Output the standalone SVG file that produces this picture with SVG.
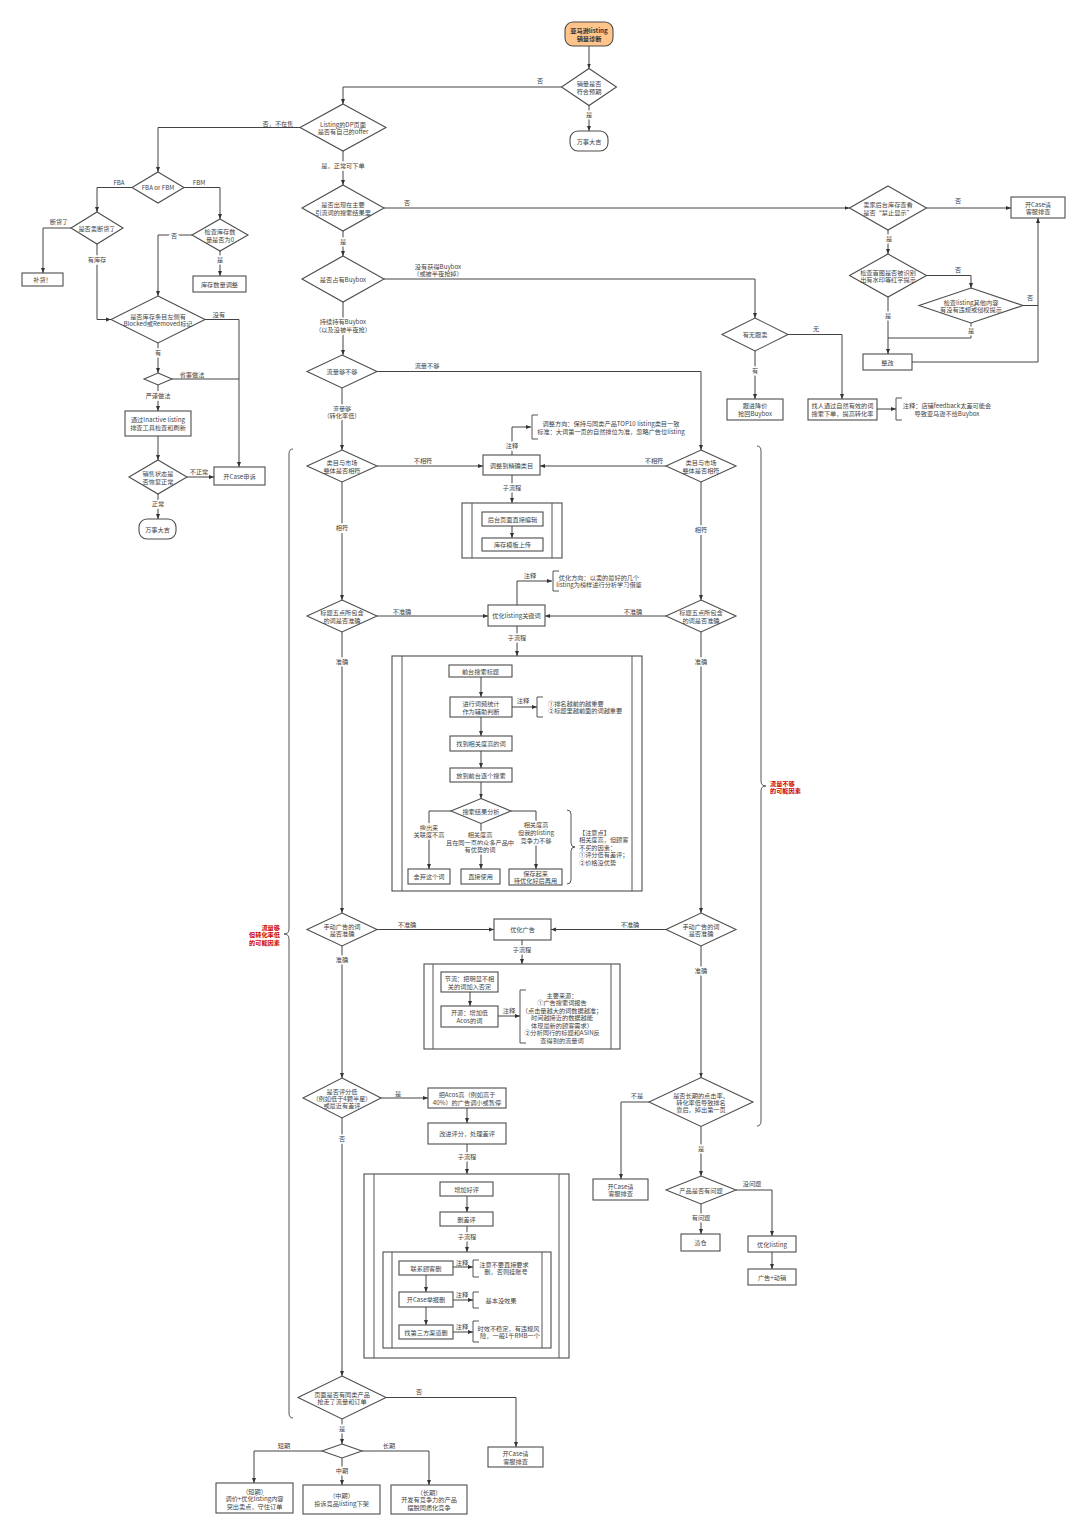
<svg xmlns="http://www.w3.org/2000/svg" width="1080" height="1529" viewBox="0 0 1080 1529">
<defs>
<marker id="ah" viewBox="0 0 10 10" refX="10" refY="5" markerWidth="5" markerHeight="5" markerUnits="userSpaceOnUse" orient="auto"><path d="M0,1 L10,5 L0,9 z" fill="#333"/></marker>
<style>
.n{fill:#fff;stroke:#4d4d4d;stroke-width:1.1}
.sp{fill:none;stroke:#4d4d4d;stroke-width:1.1}
.c{fill:none;stroke:#444;stroke-width:1}
.a{marker-end:url(#ah)}
.br{fill:none;stroke:#555;stroke-width:1}
text{font-family:"Noto Sans CJK SC","Noto Sans",sans-serif;font-size:6.2px;fill:#444;text-anchor:middle;dominant-baseline:central}
.lb{stroke:#fff;stroke-width:3;paint-order:stroke}
.st{text-anchor:start}
.r{fill:#cc0000;font-weight:bold;text-anchor:end}
.rs{fill:#cc0000;font-weight:bold;text-anchor:start}
.b{font-weight:bold;fill:#333}
</style>
</defs>
<rect width="1080" height="1529" fill="#fff"/>

<g id="start"><rect x="565" y="22" width="48" height="24" rx="8" fill="#ffc48a" stroke="#4d4d4d" stroke-width="1.1"/><text class="b" x="589" y="30.5">亚马逊listing</text><text class="b" x="589" y="38.5">销量诊断</text></g>
<g id="d-sales"><polygon class="n" points="589,68.5 616.5,87 589,105.5 561.5,87"/><text x="589" y="83.5">销量是否</text><text x="589" y="91">符合预期</text></g>
<g id="ok1"><rect class="n" x="570" y="131" width="38" height="20" rx="8"/><text x="589" y="141">万事大吉</text></g>
<g id="d-dp"><polygon class="n" points="343,104 386,127.5 343,151 300,127.5"/><text x="343" y="124">Listing的DP页面</text><text x="343" y="131.5">是否有自己的offer</text></g>
<g id="d-fba"><polygon class="n" points="158,172 184,187.5 158,203 132,187.5"/><text x="158" y="187.5">FBA or FBM</text></g>
<g id="d-stock"><polygon class="n" points="97,212 123,228 97,244 71,228"/><text x="97" y="228">是否卖断货了</text></g>
<g id="restock"><rect class="n" x="22" y="273" width="41" height="13"/><text x="42.5" y="279.5">补货！</text></g>
<g id="d-qty"><polygon class="n" points="220,219 248,235 220,251 192,235"/><text x="220" y="231.5">检查库存数</text><text x="220" y="239">量是否为0</text></g>
<g id="qty-adjust"><rect class="n" x="193" y="276" width="53" height="16"/><text x="219.5" y="284">库存数量调整</text></g>
<g id="d-blocked"><polygon class="n" points="158,296 205,319.5 158,343 111,319.5"/><text x="158" y="316">是否库存条目左侧有</text><text x="158" y="323.5">Blocked或Removed标记</text></g>
<g id="d-way"><polygon class="n" points="158,373 172,379 158,385 144,379"/></g>
<g id="inactive"><rect class="n" x="125" y="411" width="66" height="25"/><text x="158" y="419.5">通过Inactive listing</text><text x="158" y="427">排查工具检查和刷新</text></g>
<g id="d-status"><polygon class="n" points="158,460 187,477 158,494 129,477"/><text x="158" y="473.5">销售状态是</text><text x="158" y="481">否恢复正常</text></g>
<g id="appeal"><rect class="n" x="214" y="467" width="51" height="18"/><text x="239.5" y="476">开Case申诉</text></g>
<g id="ok2"><rect class="n" x="139" y="519" width="37" height="20" rx="8"/><text x="157.5" y="529">万事大吉</text></g>

<g id="d-search"><polygon class="n" points="343,185 384,208 343,231 302,208"/><text x="343" y="204.5">是否出现在主要</text><text x="343" y="212">引流词的搜索结果里</text></g>
<g id="d-buybox"><polygon class="n" points="343,256 384,279 343,302 302,279"/><text x="343" y="279">是否占有Buybox</text></g>
<g id="d-traffic"><polygon class="n" points="342,355 377,371.5 342,388 307,371.5"/><text x="342" y="371.5">流量够不够</text></g>

<g id="d-hidden"><polygon class="n" points="888,186 926.5,208 888,230 849.5,208"/><text x="888" y="204.5">卖家后台库存查看</text><text x="888" y="212">是否“禁止显示”</text></g>
<g id="case1"><rect class="n" x="1011" y="197" width="54" height="21"/><text x="1038" y="204">开Case请</text><text x="1038" y="211.5">客服排查</text></g>
<g id="d-img"><polygon class="n" points="888,254 926.5,275.5 888,297 849.5,275.5"/><text x="888" y="272">检查首图是否被识别</text><text x="888" y="279.5">出有水印等红字提示</text></g>
<g id="d-other"><polygon class="n" points="971,288 1023,305.5 971,323 919,305.5"/><text x="971" y="302">检查listing其他内容</text><text x="971" y="309.5">有没有违规或侵权提示</text></g>
<g id="fix"><rect class="n" x="863" y="354" width="49" height="16"/><text x="887.5" y="362">整改</text></g>
<g id="d-follow"><polygon class="n" points="755,318 788,334.5 755,351 722,334.5"/><text x="755" y="334.5">有无跟卖</text></g>
<g id="price"><rect class="n" x="727" y="399" width="56" height="21"/><text x="755" y="405.5">跟进降价</text><text x="755" y="413">抢回Buybox</text></g>
<g id="find"><rect class="n" x="808" y="399" width="69" height="21"/><text x="842.5" y="405.5">找人通过自然有效的词</text><text x="842.5" y="413">搜索下单，提高转化率</text></g>
<g id="note-feedback"><path class="br" d="M902,398H896V420H902"/><text x="947" y="405.5">注释：店铺feedback太差可能会</text><text x="947" y="413">导致亚马逊不给Buybox</text></g>

<g id="brace-left"><path class="br" d="M293,449Q289,449 289,454V929Q289,934 284,934Q289,934 289,939V1413Q289,1418 293,1418"/><text class="r" x="280" y="927">流量够</text><text class="r" x="280" y="934.5">但转化率低</text><text class="r" x="280" y="942">的可能因素</text></g>
<g id="brace-right"><path class="br" d="M757,446Q761,446 761,451V781Q761,786 766,786Q761,786 761,791V1121Q761,1126 757,1126"/><text class="rs" x="770" y="783">流量不够</text><text class="rs" x="770" y="790.5">的可能因素</text></g>

<g id="d-cat-l"><polygon class="n" points="342,450 377,466 342,482 307,466"/><text x="342" y="462.5">类目与市场</text><text x="342" y="470">整体是否相符</text></g>
<g id="d-cat-r"><polygon class="n" points="701,450 736,466 701,482 666,466"/><text x="701" y="462.5">类目与市场</text><text x="701" y="470">整体是否相符</text></g>
<g id="cat"><rect class="n" x="483" y="455" width="57" height="20"/><text x="511.5" y="465">调整到精确类目</text></g>
<g id="note-cat"><path class="br" d="M538,415H532V439H538"/><text x="611" y="423.5">调整方向：保持与同类产品TOP10 listing类目一致</text><text x="611" y="431">标准：大词第一页的自然排位为准，忽略广告位listing</text></g>
<g id="sub-cat"><rect class="sp" x="462" y="503" width="100" height="55"/><path class="br" d="M472,503V558M552,503V558"/><rect class="n" x="482" y="512" width="61" height="14"/><text x="512.5" y="519">后台页面直接编辑</text><rect class="n" x="482" y="538" width="61" height="13"/><text x="512.5" y="544.5">库存模板上传</text></g>

<g id="d-title-l"><polygon class="n" points="342,600 377,616 342,632 307,616"/><text x="342" y="612.5">标题五点所包含</text><text x="342" y="620">的词是否准确</text></g>
<g id="d-title-r"><polygon class="n" points="701,600 736,616 701,632 666,616"/><text x="701" y="612.5">标题五点所包含</text><text x="701" y="620">的词是否准确</text></g>
<g id="kw"><rect class="n" x="488" y="605" width="57" height="21"/><text x="516.5" y="615.5">优化listing关键词</text></g>
<g id="note-kw"><path class="br" d="M559,571H553V591H559"/><text x="599" y="577">优化方向：以卖的最好的几个</text><text x="599" y="584.5">listing为榜样进行分析学习借鉴</text></g>

<g id="sub-kw"><rect class="sp" x="392" y="656" width="250" height="235"/><path class="br" d="M402,656V891M632,656V891"/>
<rect class="n" x="449" y="665" width="63" height="12"/><text x="480.5" y="671">前台搜索标题</text>
<rect class="n" x="450" y="697" width="62" height="20"/><text x="481" y="703.5">进行词频统计</text><text x="481" y="711">作为辅助判断</text>
<path class="br" d="M543,697H537V717H543"/><text class="st" x="548" y="703">①排名越前的越重要</text><text class="st" x="548" y="710.5">②标题里越前面的词越重要</text>
<rect class="n" x="450" y="736" width="62" height="15"/><text x="481" y="743.5">找到相关度高的词</text>
<rect class="n" x="450" y="768" width="62" height="14"/><text x="481" y="775">放到前台逐个搜索</text>
<polygon class="n" points="481,798.5 511,811 481,823.5 451,811"/><text x="481" y="811">搜索结果分析</text>
<rect class="n" x="408" y="869" width="42" height="15"/><text x="429" y="876.5">舍弃这个词</text>
<rect class="n" x="461" y="869" width="39" height="15"/><text x="480.5" y="876.5">直接使用</text>
<rect class="n" x="509" y="869" width="53" height="16"/><text x="535.5" y="873.5">保存起来</text><text x="535.5" y="880.5">待优化好后再用</text>
<path class="br" d="M567,810Q571,810 571,814V843Q571,847 575,847Q571,847 571,851V880Q571,884 567,884"/>
<text class="st" x="579" y="832">【注意点】</text><text class="st" x="579" y="839.5">相关度高，但顾客</text><text class="st" x="579" y="847">不买的因素：</text><text class="st" x="579" y="854.5">①评分低有差评；</text><text class="st" x="579" y="862">②价格没优势</text>
</g>

<g id="d-ad-l"><polygon class="n" points="342,913 377,929.5 342,946 307,929.5"/><text x="342" y="926">手动广告的词</text><text x="342" y="933.5">是否准确</text></g>
<g id="d-ad-r"><polygon class="n" points="701,913 736,929.5 701,946 666,929.5"/><text x="701" y="926">手动广告的词</text><text x="701" y="933.5">是否准确</text></g>
<g id="ad"><rect class="n" x="494" y="919" width="57" height="21"/><text x="522.5" y="929.5">优化广告</text></g>
<g id="sub-ad"><rect class="sp" x="424" y="964" width="196" height="85"/><path class="br" d="M433,964V1049M611,964V1049"/>
<rect class="n" x="441" y="972" width="57" height="20"/><text x="469.5" y="978.5">节流：把明显不相</text><text x="469.5" y="986">关的词加入否定</text>
<rect class="n" x="441" y="1006" width="57" height="21"/><text x="469.5" y="1012.5">开源：增加低</text><text x="469.5" y="1020">Acos的词</text>
<path class="br" d="M526,990H520V1043H526"/>
<text x="562" y="995">主要来源：</text><text x="562" y="1002.5">①广告搜索词报告</text><text x="562" y="1010">（点击量越大的词数据越准；</text><text x="562" y="1017.5">时间越接近的数据越能</text><text x="562" y="1025">体现最新的顾客需求）</text><text x="562" y="1032.5">②分析同行的标题和ASIN反</text><text x="562" y="1040">查得到的流量词</text>
</g>

<g id="d-rating"><polygon class="n" points="342,1078 381,1098 342,1118 303,1098"/><text x="342" y="1091">是否评分低</text><text x="342" y="1098">（例如低于4颗半星）</text><text x="342" y="1105">或最近有差评</text></g>
<g id="acos"><rect class="n" x="428" y="1088" width="78" height="20"/><text x="467" y="1094.5">把Acos高（例如高于</text><text x="467" y="1102">40%）的广告调小或暂停</text></g>
<g id="improve"><rect class="n" x="428" y="1123" width="78" height="21"/><text x="467" y="1133.5">改进评分，处理差评</text></g>
<g id="sub-review"><rect class="sp" x="364" y="1174" width="205" height="184"/><path class="br" d="M374,1174V1358M559,1174V1358"/>
<rect class="n" x="440" y="1182" width="53" height="14"/><text x="466.5" y="1189">增加好评</text>
<rect class="n" x="440" y="1212" width="53" height="14"/><text x="466.5" y="1219">删差评</text>
<rect class="sp" x="383" y="1252" width="168" height="96"/><path class="br" d="M392,1252V1348M542,1252V1348"/>
<rect class="n" x="399" y="1261" width="54" height="14"/><text x="426" y="1268">联系顾客删</text>
<rect class="n" x="399" y="1292" width="54" height="15"/><text x="426" y="1299.5">开Case举报删</text>
<rect class="n" x="399" y="1325" width="54" height="14"/><text x="426" y="1332">找第三方渠道删</text>
<path class="br" d="M479,1260H473V1277H479"/><text x="504" y="1264">注意不要直接要求</text><text x="506" y="1271.5">删，否则挂账号</text>
<path class="br" d="M479,1292H473V1308H479"/><text x="501" y="1300">基本没效果</text>
<path class="br" d="M479,1321H473V1342H479"/><text x="508.5" y="1328">时效不稳定，有违规风</text><text x="510" y="1335.5">险，一般1千RMB一个</text>
</g>

<g id="d-rank"><polygon class="n" points="701,1077.5 753,1102 701,1126.5 649,1102"/><text x="701" y="1095">是否长期的点击率、</text><text x="701" y="1102">转化率低导致排名</text><text x="701" y="1109">靠后，掉出第一页</text></g>
<g id="case2"><rect class="n" x="593" y="1179" width="55" height="21"/><text x="620.5" y="1186">开Case请</text><text x="620.5" y="1193.5">客服排查</text></g>
<g id="d-product"><polygon class="n" points="701,1176 736,1190 701,1204 666,1190"/><text x="701" y="1190">产品是否有问题</text></g>
<g id="clear"><rect class="n" x="681" y="1234" width="39" height="17"/><text x="700.5" y="1242.5">清仓</text></g>
<g id="opt-listing"><rect class="n" x="748" y="1236" width="48" height="16"/><text x="772" y="1244">优化listing</text></g>
<g id="ad-promo"><rect class="n" x="748" y="1269" width="48" height="16"/><text x="772" y="1277">广告+动销</text></g>

<g id="d-compete"><polygon class="n" points="342,1376 386,1397.5 342,1419 298,1397.5"/><text x="342" y="1394">页面是否有同类产品</text><text x="342" y="1401.5">抢走了流量和订单</text></g>
<g id="case3"><rect class="n" x="488" y="1447" width="55" height="20"/><text x="515.5" y="1453.5">开Case请</text><text x="515.5" y="1461">客服排查</text></g>
<g id="d-term"><polygon class="n" points="342,1444 362,1451 342,1458 322,1451"/></g>
<g id="short"><rect class="n" x="216" y="1483" width="77" height="30"/><text x="254.5" y="1491">（短期）</text><text x="254.5" y="1498.5">调价+优化listing内容</text><text x="254.5" y="1506">突出卖点，守住订单</text></g>
<g id="mid"><rect class="n" x="303" y="1485" width="77" height="29"/><text x="341.5" y="1495.5">（中期）</text><text x="341.5" y="1503">投诉竞品listing下架</text></g>
<g id="long"><rect class="n" x="391" y="1485" width="76" height="29"/><text x="429" y="1492">（长期）</text><text x="429" y="1499.5">开发有竞争力的产品</text><text x="429" y="1507">摆脱同质化竞争</text></g>

<g id="connectors">
<path class="c a" d="M589,46V68.5"/>
<path class="c a" d="M561.5,87H343V104"/>
<path class="c a" d="M589,105.5V131"/>
<path class="c a" d="M300,127.5H158V172"/>
<path class="c a" d="M132,187.5H97V212"/>
<path class="c a" d="M184,187.5H220V219"/>
<path class="c a" d="M71,228H43V273"/>
<path class="c a" d="M97,244V319.5H111"/>
<path class="c a" d="M192,235H158V296"/>
<path class="c a" d="M220,251V276"/>
<path class="c a" d="M205,319.5H239V467"/>
<path class="c a" d="M158,343V373"/>
<path class="c" d="M172,379H239"/>
<path class="c a" d="M158,385V411"/>
<path class="c a" d="M158,436V460"/>
<path class="c a" d="M187,477H214"/>
<path class="c a" d="M158,494V519"/>
<path class="c a" d="M343,151V185"/>
<path class="c a" d="M384,208H849.5"/>
<path class="c a" d="M343,231V256"/>
<path class="c a" d="M384,279H755V318"/>
<path class="c a" d="M343,302V355"/>
<path class="c a" d="M377,371.5H701V450"/>
<path class="c a" d="M342,388V450"/>
<path class="c a" d="M926.5,208H1011"/>
<path class="c a" d="M888,230V254"/>
<path class="c a" d="M926.5,275.5H971V288"/>
<path class="c" d="M1023,305.5H1038"/>
<path class="c a" d="M912,362H1038V218"/>
<path class="c" d="M971,323V338H888"/>
<path class="c a" d="M888,297V354"/>
<path class="c a" d="M788,334.5H842V399"/>
<path class="c a" d="M755,351V399"/>
<path class="c a" d="M877,409H896"/>
<path class="c a" d="M377,466H483"/>
<path class="c a" d="M666,466H540"/>
<path class="c a" d="M512,455V427H531"/>
<path class="c a" d="M512,475V503"/>
<path class="c a" d="M512,526V538"/>
<path class="c a" d="M342,482V600"/>
<path class="c a" d="M701,482V600"/>
<path class="c a" d="M377,616H488"/>
<path class="c a" d="M666,616H545"/>
<path class="c a" d="M517,605V581H552"/>
<path class="c a" d="M517,626V656"/>
<path class="c a" d="M481,677V697"/>
<path class="c a" d="M481,717V736"/>
<path class="c a" d="M481,751V768"/>
<path class="c a" d="M481,782V798.5"/>
<path class="c a" d="M512,707H537"/>
<path class="c a" d="M451,811H429V869"/>
<path class="c a" d="M511,811H536V869"/>
<path class="c a" d="M481,823.5V869"/>
<path class="c a" d="M342,632V913"/>
<path class="c a" d="M701,632V913"/>
<path class="c a" d="M377,929.5H494"/>
<path class="c a" d="M666,929.5H551"/>
<path class="c a" d="M522,940V964"/>
<path class="c a" d="M470,992V1006"/>
<path class="c a" d="M498,1016H520"/>
<path class="c a" d="M342,946V1078"/>
<path class="c a" d="M701,946V1077.5"/>
<path class="c a" d="M381,1098H428"/>
<path class="c a" d="M467,1108V1123"/>
<path class="c a" d="M467,1144V1174"/>
<path class="c a" d="M467,1196V1212"/>
<path class="c a" d="M467,1226V1252"/>
<path class="c a" d="M426,1275V1292"/>
<path class="c a" d="M426,1307V1325"/>
<path class="c a" d="M453,1267H473"/>
<path class="c a" d="M453,1300H473"/>
<path class="c a" d="M453,1332H473"/>
<path class="c a" d="M342,1118V1376"/>
<path class="c a" d="M649,1102H621V1179"/>
<path class="c a" d="M701,1126.5V1176"/>
<path class="c a" d="M736,1190H772V1236"/>
<path class="c a" d="M701,1204V1234"/>
<path class="c a" d="M772,1252V1269"/>
<path class="c a" d="M386,1397.5H516V1447"/>
<path class="c a" d="M342,1419V1444"/>
<path class="c a" d="M322,1451H254V1483"/>
<path class="c a" d="M342,1458V1485"/>
<path class="c a" d="M362,1451H429V1485"/>

<text x="540" y="80">否</text>
<text class="lb" x="589" y="114">是</text>
<text x="278" y="123">否，不在售</text>
<text x="119" y="182">FBA</text>
<text x="199" y="182">FBM</text>
<text x="59" y="221">断货了</text>
<text class="lb" x="97" y="259">有库存</text>
<text class="lb" x="174" y="235">否</text>
<text class="lb" x="220" y="259">是</text>
<text x="219" y="314">没有</text>
<text class="lb" x="158" y="352">有</text>
<text x="192" y="374">省事做法</text>
<text class="lb" x="158" y="395">严谨做法</text>
<text x="199" y="471">不正常</text>
<text class="lb" x="158" y="503">正常</text>
<text class="lb" x="343" y="165">是，正常可下单</text>
<text x="407" y="202">否</text>
<text class="lb" x="343" y="241">是</text>
<text x="438" y="266">没有获得Buybox</text>
<text x="438" y="273">（或被半夜抢掉）</text>
<text class="lb" x="343" y="321">持续持有Buybox</text>
<text class="lb" x="343" y="329">（以及没被半夜抢）</text>
<text x="427" y="365">流量不够</text>
<text class="lb" x="342" y="408">流量够</text>
<text class="lb" x="342" y="415">（转化率低）</text>
<text x="958" y="200">否</text>
<text class="lb" x="889" y="238">是</text>
<text x="958" y="269">否</text>
<text x="1030" y="297">否</text>
<text class="lb" x="971" y="330">是</text>
<text class="lb" x="888" y="315">是</text>
<text x="816" y="328">无</text>
<text class="lb" x="755" y="370">有</text>
<text x="423" y="460">不相符</text>
<text x="654" y="460">不相符</text>
<text class="lb" x="512" y="445">注释</text>
<text class="lb" x="512" y="487">子流程</text>
<text class="lb" x="342" y="527">相符</text>
<text class="lb" x="701" y="529">相符</text>
<text x="402" y="611">不准确</text>
<text x="633" y="611">不准确</text>
<text x="530" y="575">注释</text>
<text class="lb" x="517" y="637">子流程</text>
<text x="523" y="700">注释</text>
<text class="lb" x="429" y="827">搜出来</text>
<text class="lb" x="429" y="834">关联度不高</text>
<text class="lb" x="480" y="834">相关度高</text>
<text class="lb" x="480" y="842">且在同一页的众多产品中</text>
<text class="lb" x="480" y="849">有优势的词</text>
<text class="lb" x="536" y="824">相关度高</text>
<text class="lb" x="536" y="832">但我的listing</text>
<text class="lb" x="536" y="840">竞争力不够</text>
<text class="lb" x="342" y="661">准确</text>
<text class="lb" x="701" y="661">准确</text>
<text x="407" y="924">不准确</text>
<text x="630" y="924">不准确</text>
<text class="lb" x="522" y="949">子流程</text>
<text x="509" y="1010">注释</text>
<text class="lb" x="342" y="959">准确</text>
<text class="lb" x="701" y="970">准确</text>
<text x="398" y="1093">是</text>
<text class="lb" x="467" y="1156">子流程</text>
<text class="lb" x="467" y="1236">子流程</text>
<text x="462" y="1262">注释</text>
<text x="462" y="1294">注释</text>
<text x="462" y="1326">注释</text>
<text class="lb" x="342" y="1138">否</text>
<text x="637" y="1095">不是</text>
<text class="lb" x="701" y="1148">是</text>
<text x="752" y="1183">没问题</text>
<text class="lb" x="701" y="1217">有问题</text>
<text x="419" y="1391">否</text>
<text class="lb" x="342" y="1428">是</text>
<text x="284" y="1445">短期</text>
<text class="lb" x="342" y="1470">中期</text>
<text x="389" y="1445">长期</text>
</g>
</svg>
